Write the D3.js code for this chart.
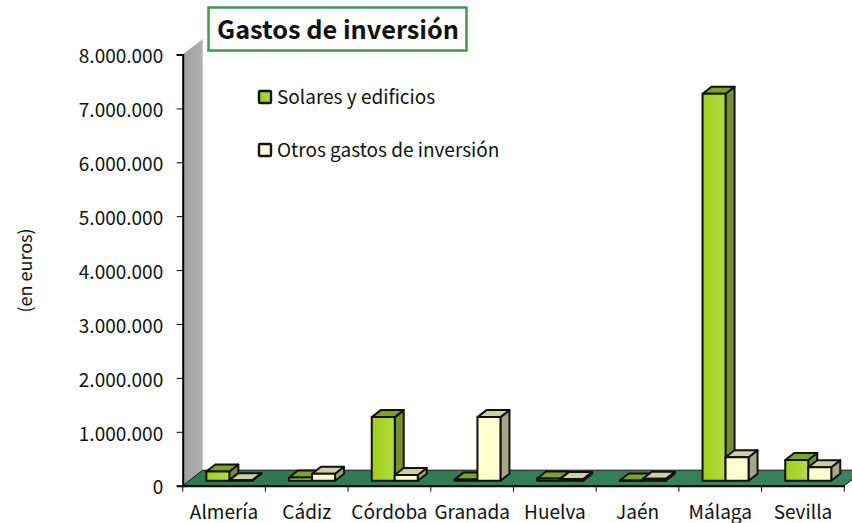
<!DOCTYPE html>
<html lang="es">
<head>
<meta charset="UTF-8">
<title>Gastos de inversión</title>
<script src="https://d3js.org/d3.v7.min.js"></script>
<style>
    html, body { margin: 0; padding: 0; background: #fff; }
    svg { display: block; }
    text { font-family: "Noto Sans CJK SC", sans-serif; fill: #111; }
</style>
</head>
<body>
<svg id="chart" width="852" height="523"></svg>
<script>
// values
const provincias = ["Almería", "Cádiz", "Córdoba", "Granada", "Huelva", "Jaén", "Málaga", "Sevilla"];
const solares = [170000, 60000, 1180000, 20000, 40000, 5000, 7180000, 385000];
const otros = [10000, 130000, 105000, 1180000, 30000, 35000, 435000, 250000];
const yTicks = [0, 1000000, 2000000, 3000000, 4000000, 5000000, 6000000, 7000000, 8000000];

const svg = d3.select("#chart");
const defs = svg.append("defs");

const x = d3.scaleBand().domain(provincias).range([182.7, 844.3]);
const y = d3.scaleLinear().domain([0, 8000000]).range([485.7, 54.5]);

// 3d offsets: wall/floor depth, bar depth, and where the bars sit on the floor
const depth = { x: 20, y: -15.5 };
const barDepth = { x: 9, y: -7 };
const barShift = { x: 5.3, y: -5 };
const barWidth = 23;

function gradient(id, c1, c2) {
    const g = defs.append("linearGradient").attr("id", id);
    g.append("stop").attr("offset", "0%").attr("stop-color", c1);
    g.append("stop").attr("offset", "100%").attr("stop-color", c2);
}
gradient("wallGrad", "#a0a0a0", "#b0b0b0");
gradient("floorGrad", "#2d7753", "#38835e");
gradient("greenGrad", "#9fd010", "#b4dc44");
gradient("creamGrad", "#ffffcc", "#ffffd2");

const poly = pts => "M" + pts.map(p => p.join(",")).join("L") + "Z";

// wall
svg.append("path")
    .attr("d", poly([[x.range()[0], y(0)], [x.range()[0], y(8000000)],
        [x.range()[0] + depth.x, y(8000000) + depth.y], [x.range()[0] + depth.x, y(0) + depth.y]]))
    .attr("fill", "url(#wallGrad)");

// floor
svg.append("path")
    .attr("d", poly([[x.range()[0], y(0)], [x.range()[1], y(0)],
        [x.range()[1] + depth.x, y(0) + depth.y], [x.range()[0] + depth.x, y(0) + depth.y]]))
    .attr("fill", "url(#floorGrad)")
    .attr("stroke", "#111")
    .attr("stroke-width", 1);

// y axis
const yAxis = d3.axisLeft(y)
    .tickValues(yTicks)
    .tickSize(6)
    .tickFormat(d => d3.format(",")(d).replace(/,/g, "."));
const gy = svg.append("g").attr("transform", `translate(${x.range()[0]},0)`).call(yAxis);
gy.selectAll("text").attr("x", -19.5).attr("dy", "8.2px").style("font-size", "19px");
gy.selectAll("line").attr("stroke", "#000");
gy.select(".domain").attr("stroke", "#000").attr("stroke-width", 2);

// x axis: labels on band centres, ticks on the band edges
const xAxis = d3.axisBottom(x).tickSize(0).tickPadding(0);
const gx = svg.append("g").attr("transform", `translate(0,${y(0)})`).call(xAxis);
gx.selectAll("text").attr("y", 33.5).attr("dy", 0).style("font-size", "19px");
gx.select(".domain").attr("stroke", "#000").attr("stroke-width", 2);
svg.append("g").selectAll("line")
    .data(provincias.concat("end"))
    .join("line")
    .attr("x1", d => d === "end" ? x.range()[1] : x(d))
    .attr("x2", d => d === "end" ? x.range()[1] : x(d))
    .attr("y1", y(0))
    .attr("y2", y(0) + 6)
    .attr("stroke", "#000");

// bars
const series = [
    { values: solares, front: "url(#greenGrad)", top: "#7ea513", side: "#76912a", offset: -barWidth },
    { values: otros, front: "url(#creamGrad)", top: "#cfcfa3", side: "#a5a587", offset: 0 }
];
const barsG = svg.append("g").attr("stroke", "#111").attr("stroke-width", 2).attr("stroke-linejoin", "round");

provincias.forEach((p, i) => {
    series.forEach(s => {
        const x0 = x(p) + x.bandwidth() / 2 + barShift.x + s.offset;
        const x1 = x0 + barWidth;
        const yBase = y(0) + barShift.y;
        const yTop = y(s.values[i]) + barShift.y;
        // side
        barsG.append("path")
            .attr("d", poly([[x1, yBase], [x1, yTop], [x1 + barDepth.x, yTop + barDepth.y], [x1 + barDepth.x, yBase + barDepth.y]]))
            .attr("fill", s.side);
        // top
        barsG.append("path")
            .attr("d", poly([[x0, yTop], [x1, yTop], [x1 + barDepth.x, yTop + barDepth.y], [x0 + barDepth.x, yTop + barDepth.y]]))
            .attr("fill", s.top);
        // front
        barsG.append("path")
            .attr("d", poly([[x0, yBase], [x1, yBase], [x1, yTop], [x0, yTop]]))
            .attr("fill", s.front);
    });
});

// y axis title
svg.append("text")
    .attr("transform", "translate(31.5,270.5) rotate(-90)")
    .attr("text-anchor", "middle")
    .style("font-size", "18px")
    .text("(en euros)");

// legend
const legendItems = [
    { label: "Solares y edificios", fill: "url(#greenGrad)", yPos: 97 },
    { label: "Otros gastos de inversión", fill: "url(#creamGrad)", yPos: 150 }
];
legendItems.forEach(d => {
    svg.append("rect")
        .attr("x", 259).attr("y", d.yPos - 6).attr("width", 12).attr("height", 12).attr("rx", 1)
        .attr("fill", d.fill).attr("stroke", "#111").attr("stroke-width", 2.4);
    svg.append("text")
        .attr("x", 277).attr("y", d.yPos + 6.5)
        .style("font-size", "19px")
        .text(d.label);
});

// title box
svg.append("rect")
    .attr("x", 208.5).attr("y", 7.5).attr("width", 258).attr("height", 43)
    .attr("fill", "#fff").attr("stroke", "#3f9a50").attr("stroke-width", 2.5);
svg.append("text")
    .attr("x", 338).attr("y", 39)
    .attr("text-anchor", "middle")
    .style("font-size", "25.3px")
    .style("font-weight", "bold")
    .text("Gastos de inversión");
</script>
</body>
</html>
